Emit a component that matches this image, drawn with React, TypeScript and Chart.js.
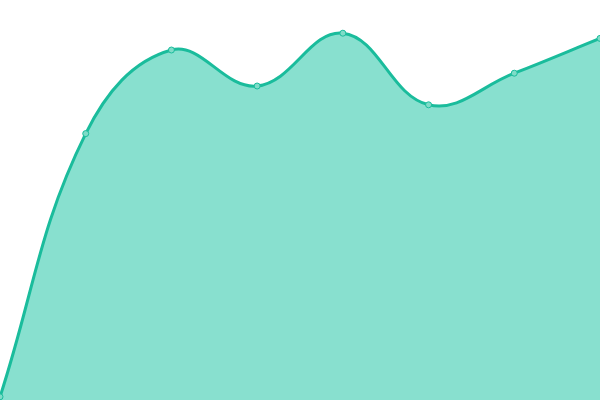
import { useEffect, useRef } from "react"
import { Chart, registerables } from "chart.js"

// Register Chart.js components
Chart.register(...registerables)

const labels = ["1", "2", "3", "4", "5", "6", "7", "8"]
const values = [0.8, 66.6, 87.5, 78.5, 91.7, 73.8, 81.7, 90.4]

const lineColor = "#1abc9c"
const fillColor = "#88e0cf"

export default function App() {
  const chartRef = useRef<HTMLCanvasElement>(null)
  const chartInstance = useRef<Chart | null>(null)

  useEffect(() => {
    document.body.style.margin = "0"
    if (!chartRef.current) return

    if (chartInstance.current) {
      chartInstance.current.destroy()
    }

    const ctx = chartRef.current.getContext("2d")
    if (ctx) {
      chartInstance.current = new Chart(ctx, {
        type: "line",
        data: {
          labels,
          datasets: [
            {
              data: values,
              borderColor: lineColor,
              backgroundColor: fillColor,
              borderWidth: 3,
              fill: true,
              tension: 0.4,
              pointRadius: 3,
              pointBorderWidth: 1,
              pointBackgroundColor: "#7fdcc8",
              pointBorderColor: lineColor,
            },
          ],
        },
        options: {
          responsive: true,
          maintainAspectRatio: false,
          animation: false,
          layout: { padding: 0, autoPadding: false },
          plugins: {
            legend: { display: false },
            tooltip: { enabled: false },
          },
          scales: {
            x: { display: false },
            y: { display: false, min: 0, max: 100 },
          },
        },
      })
    }

    // Cleanup function
    return () => {
      if (chartInstance.current) {
        chartInstance.current.destroy()
        chartInstance.current = null
      }
    }
  }, [])

  return (
    <div style={{ position: "fixed", left: 0, top: 0, width: 600, height: 400 }}>
      <canvas ref={chartRef} />
    </div>
  )
}
